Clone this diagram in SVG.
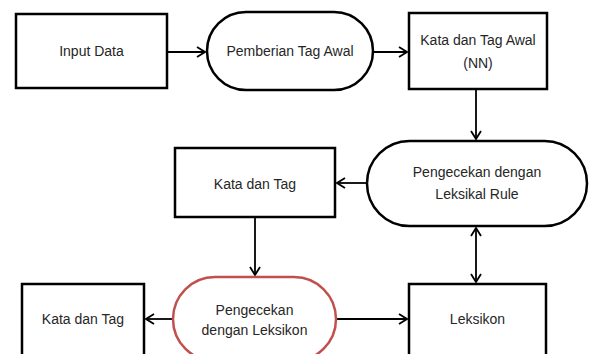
<svg xmlns="http://www.w3.org/2000/svg" width="593" height="354" viewBox="0 0 593 354">
<defs>
<style>
.box{fill:#fff;stroke:#000;stroke-width:2.5}
.red{fill:#fff;stroke:#c0504d;stroke-width:2.5}
.lbl{font-family:"Liberation Sans",Arial,sans-serif;font-size:14px;fill:#262626;text-anchor:middle}
.con{fill:none;stroke:#000;stroke-width:1.8}
</style>
<marker id="ah" viewBox="0 0 10 12" refX="9" refY="6" markerWidth="10" markerHeight="12" markerUnits="userSpaceOnUse" orient="auto-start-reverse">
<path d="M1,1 L9,6 L1,11" fill="none" stroke="#000" stroke-width="1.8"/>
</marker>
</defs>
<rect width="593" height="354" fill="#fff"/>
<g id="connectors">
<line class="con" x1="167" y1="52" x2="205" y2="52" marker-end="url(#ah)"/>
<line class="con" x1="373" y1="52" x2="407" y2="52" marker-end="url(#ah)"/>
<line class="con" x1="476" y1="89" x2="476" y2="139" marker-end="url(#ah)"/>
<line class="con" x1="367" y1="183" x2="337" y2="183" marker-end="url(#ah)"/>
<line class="con" x1="476" y1="228" x2="476" y2="282" marker-start="url(#ah)" marker-end="url(#ah)"/>
<line class="con" x1="255" y1="217" x2="255" y2="275" marker-end="url(#ah)"/>
<line class="con" x1="173" y1="319" x2="146" y2="319" marker-end="url(#ah)"/>
<line class="con" x1="336" y1="319" x2="407" y2="319" marker-end="url(#ah)"/>
</g>
<g id="input-data">
<rect class="box" x="16" y="14" width="151" height="74"/>
<text class="lbl" x="91.5" y="56">Input Data</text>
</g>
<g id="pemberian-tag-awal">
<rect class="box" x="207" y="12" width="166" height="78" rx="39" ry="39"/>
<text class="lbl" x="290" y="56">Pemberian Tag Awal</text>
</g>
<g id="kata-tag-awal">
<rect class="box" x="409" y="13" width="138" height="76"/>
<text class="lbl" x="478" y="45">Kata dan Tag Awal</text>
<text class="lbl" x="478" y="68">(NN)</text>
</g>
<g id="leksikal-rule">
<rect class="box" x="367" y="141" width="220" height="85" rx="42.5" ry="42.5"/>
<text class="lbl" x="477" y="177">Pengecekan dengan</text>
<text class="lbl" x="477" y="199">Leksikal Rule</text>
</g>
<g id="kata-tag-1">
<rect class="box" x="175" y="148" width="160" height="69"/>
<text class="lbl" x="255" y="189">Kata dan Tag</text>
</g>
<g id="leksikon-check">
<rect class="red" x="173" y="277" width="163" height="84" rx="42" ry="42"/>
<text class="lbl" x="254.5" y="315">Pengecekan</text>
<text class="lbl" x="254.5" y="335">dengan Leksikon</text>
</g>
<g id="kata-tag-2">
<rect class="box" x="22" y="284" width="122" height="72"/>
<text class="lbl" x="83" y="324">Kata dan Tag</text>
</g>
<g id="leksikon">
<rect class="box" x="409" y="284" width="137" height="72"/>
<text class="lbl" x="477.5" y="324">Leksikon</text>
</g>
</svg>
